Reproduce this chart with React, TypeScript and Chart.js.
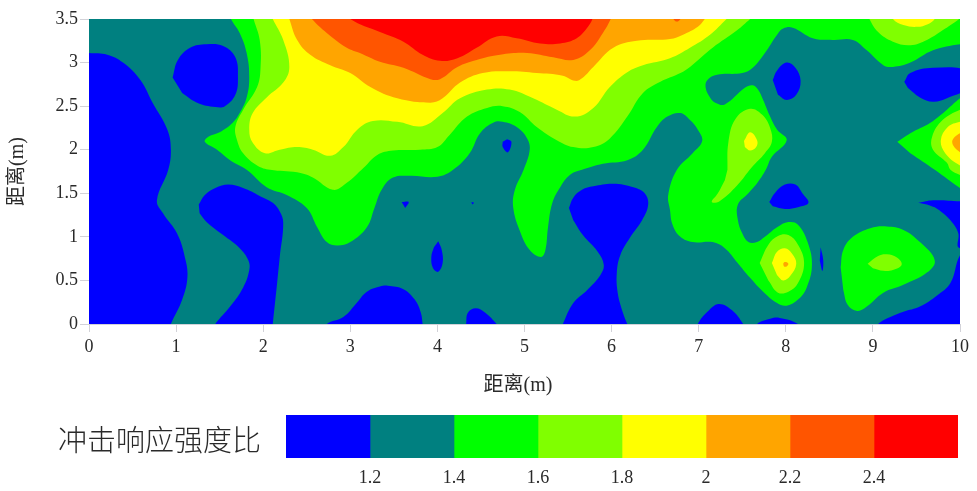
import React, { useEffect, useRef } from "react";
import { Chart, registerables } from "chart.js";

Chart.register(...registerables);

type Ring = number[][];

const levelColors = ["#0000ff", "#008080", "#00ff00", "#80ff00", "#ffff00", "#ffa500", "#ff5500", "#ff0000"];
const levelEdges = [1.0, 1.2, 1.4, 1.6, 1.8, 2.0, 2.2, 2.4, 2.6];
const legendTicks = [1.2, 1.4, 1.6, 1.8, 2, 2.2, 2.4];

const tealBase: Ring[] = [[[-0.2, -0.2], [10.2, -0.2], [10.2, 3.7], [-0.2, 3.7]]];

const blueRegions: Ring[] = [
  [[-0.1, 3.11], [0, 3.11], [0.21, 3.09], [0.39, 3.0], [0.59, 2.8], [0.73, 2.54], [0.9, 2.23], [0.94, 2.0], [0.91, 1.77], [0.78, 1.42], [0.85, 1.27], [1.01, 1.04], [1.1, 0.77], [1.13, 0.54], [1.07, 0.28], [0.94, 0], [0.9, -0.1], [-0.1, -0.1]],
  [[0.96, 2.83], [1.02, 3.03], [1.16, 3.17], [1.35, 3.21], [1.54, 3.19], [1.68, 3.06], [1.71, 2.83], [1.68, 2.63], [1.56, 2.5], [1.45, 2.49], [1.24, 2.54], [1.07, 2.65]],
  [[1.26, 1.37], [1.33, 1.48], [1.45, 1.56], [1.6, 1.6], [1.77, 1.56], [1.96, 1.47], [2.11, 1.39], [2.19, 1.29], [2.23, 1.16], [2.19, 0.77], [2.16, 0.47], [2.11, 0], [2.1, -0.1], [1.4, -0.1], [1.45, 0], [1.62, 0.2], [1.77, 0.42], [1.84, 0.62], [1.83, 0.73], [1.73, 0.87], [1.54, 1.02], [1.35, 1.17], [1.27, 1.27]],
  [[2.7, -0.1], [2.73, 0], [2.92, 0.08], [3.08, 0.25], [3.19, 0.37], [3.34, 0.43], [3.43, 0.44], [3.61, 0.4], [3.74, 0.28], [3.81, 0.13], [3.83, 0], [3.84, -0.1]],
  [[4.32, -0.1], [4.33, 0], [4.35, 0.13], [4.44, 0.18], [4.55, 0.13], [4.68, 0], [4.75, -0.1]],
  [[5.51, 1.33], [5.56, 1.45], [5.66, 1.54], [5.79, 1.58], [6.02, 1.61], [6.25, 1.57], [6.38, 1.5], [6.42, 1.37], [6.35, 1.19], [6.21, 0.99], [6.1, 0.79], [6.06, 0.59], [6.07, 0.36], [6.13, 0.13], [6.18, 0], [6.22, -0.1], [5.4, -0.1], [5.44, 0], [5.56, 0.24], [5.72, 0.39], [5.87, 0.56], [5.91, 0.68], [5.84, 0.83], [5.67, 1.02], [5.56, 1.19]],
  [[4.01, 0.95], [4.05, 0.85], [4.06, 0.7], [4.01, 0.6], [3.95, 0.64], [3.93, 0.77], [3.96, 0.88]],
  [[3.59, 1.4], [3.67, 1.4], [3.63, 1.33]],
  [[4.39, 1.4], [4.42, 1.39], [4.4, 1.37]],
  [[4.8, 2.12], [4.85, 2.09], [4.81, 1.97], [4.75, 2.03], [4.75, 2.09]],
  [[6.97, -0.1], [6.99, 0], [7.1, 0.14], [7.23, 0.23], [7.38, 0.16], [7.51, 0], [7.55, -0.1]],
  [[7.62, -0.1], [7.67, 0], [7.82, 0.06], [7.93, 0.07], [8.14, 0], [8.2, -0.1]],
  [[9.0, -0.1], [9.06, 0], [9.2, 0.08], [9.35, 0.14], [9.54, 0.2], [9.74, 0.33], [9.89, 0.47], [10, 0.79], [10.1, 0.85], [10.1, -0.1]],
  [[9.52, 1.39], [9.69, 1.42], [10, 1.41], [10.1, 1.41], [10.1, 0.9], [9.98, 0.88], [9.98, 1.04], [9.89, 1.19], [9.74, 1.32], [9.62, 1.37]],
  [[7.81, 1.4], [7.88, 1.51], [7.99, 1.6], [8.11, 1.6], [8.19, 1.5], [8.26, 1.39], [8.14, 1.34], [7.99, 1.32], [7.85, 1.35]],
  [[8.4, 0.88], [8.43, 0.73], [8.42, 0.61], [8.39, 0.73]],
  [[7.85, 2.8], [7.9, 2.91], [8.01, 3.0], [8.11, 2.94], [8.17, 2.79], [8.12, 2.63], [8.01, 2.57], [7.91, 2.63]],
  [[9.36, 2.78], [9.43, 2.88], [9.69, 2.94], [10.1, 2.9], [10.1, 2.72], [9.85, 2.59], [9.69, 2.55], [9.54, 2.6], [9.4, 2.71]],
];

const greenRegions: Ring[] = [
  [[1.6, 3.6], [1.63, 3.5], [1.73, 3.34], [1.81, 3.11], [1.84, 2.83], [1.81, 2.6], [1.73, 2.42], [1.65, 2.31], [1.5, 2.2], [1.37, 2.15], [1.33, 2.09], [1.47, 2.0], [1.62, 1.88], [1.81, 1.77], [2.04, 1.57], [2.27, 1.48], [2.5, 1.33], [2.62, 1.11], [2.73, 0.94], [2.85, 0.9], [3.0, 0.94], [3.19, 1.11], [3.28, 1.34], [3.36, 1.54], [3.49, 1.68], [3.69, 1.7], [4.0, 1.69], [4.18, 1.77], [4.37, 1.96], [4.49, 2.19], [4.64, 2.31], [4.75, 2.32], [4.91, 2.26], [5.03, 2.13], [5.06, 2.0], [4.99, 1.77], [4.89, 1.54], [4.87, 1.34], [4.95, 1.06], [5.06, 0.85], [5.19, 0.77], [5.24, 0.85], [5.27, 1.11], [5.32, 1.39], [5.41, 1.57], [5.52, 1.71], [5.66, 1.77], [5.9, 1.84], [6.18, 1.88], [6.36, 2.0], [6.52, 2.26], [6.64, 2.38], [6.79, 2.42], [6.9, 2.34], [6.99, 2.23], [7.04, 2.1], [6.93, 1.96], [6.75, 1.77], [6.65, 1.48], [6.67, 1.31], [6.7, 1.14], [6.79, 1.0], [6.93, 0.94], [7.16, 0.94], [7.3, 0.87], [7.44, 0.71], [7.59, 0.53], [7.74, 0.37], [7.9, 0.24], [8.01, 0.21], [8.14, 0.28], [8.24, 0.42], [8.3, 0.68], [8.25, 0.94], [8.14, 1.14], [8.03, 1.17], [7.9, 1.11], [7.76, 1.0], [7.67, 0.94], [7.57, 0.94], [7.5, 1.04], [7.45, 1.19], [7.45, 1.37], [7.57, 1.5], [7.68, 1.63], [7.77, 1.77], [7.84, 1.92], [8.01, 2.11], [7.9, 2.23], [7.82, 2.38], [7.74, 2.57], [7.68, 2.69], [7.62, 2.74], [7.53, 2.71], [7.3, 2.52], [7.19, 2.54], [7.13, 2.6], [7.08, 2.71], [7.1, 2.8], [7.21, 2.86], [7.5, 2.88], [7.62, 2.94], [7.76, 3.11], [7.9, 3.32], [7.97, 3.39], [8.08, 3.4], [8.31, 3.28], [8.54, 3.26], [8.77, 3.26], [8.93, 3.14], [9.12, 2.97], [9.23, 2.95], [9.43, 3.0], [9.69, 3.14], [10, 3.21], [10.1, 3.2], [10.1, 3.6]],
  [[9.28, 2.09], [9.43, 2.19], [9.66, 2.31], [9.85, 2.46], [10, 2.59], [10.1, 2.65], [10.1, 1.5], [10, 1.56], [9.71, 1.77], [9.43, 1.96]],
  [[8.63, 0.65], [8.66, 0.85], [8.77, 1.0], [8.97, 1.1], [9.16, 1.12], [9.35, 1.08], [9.54, 0.94], [9.71, 0.73], [9.62, 0.59], [9.35, 0.45], [9.12, 0.36], [8.93, 0.2], [8.82, 0.15], [8.71, 0.22], [8.66, 0.39]],
];

const chartreuseRegions: Ring[] = [
  [[1.87, 3.6], [1.89, 3.5], [1.96, 3.26], [1.97, 2.95], [1.93, 2.72], [1.77, 2.46], [1.68, 2.26], [1.7, 2.11], [1.77, 1.96], [1.93, 1.82], [2.08, 1.77], [2.39, 1.74], [2.57, 1.68], [2.8, 1.54], [2.96, 1.62], [3.15, 1.79], [3.31, 1.94], [3.49, 1.99], [3.8, 2.0], [4.0, 2.03], [4.14, 2.17], [4.34, 2.38], [4.57, 2.48], [4.75, 2.5], [4.95, 2.43], [5.14, 2.26], [5.37, 2.11], [5.56, 2.03], [5.79, 2.03], [5.98, 2.13], [6.18, 2.38], [6.36, 2.65], [6.56, 2.78], [6.79, 2.88], [6.9, 2.95], [7.16, 3.17], [7.44, 3.37], [7.59, 3.5], [7.7, 3.6]],
  [[8.92, 3.6], [8.96, 3.5], [9.06, 3.35], [9.23, 3.24], [9.43, 3.2], [9.62, 3.26], [9.8, 3.37], [9.99, 3.5], [10.1, 3.6]],
  [[7.33, 1.77], [7.34, 2.08], [7.42, 2.35], [7.59, 2.47], [7.73, 2.4], [7.82, 2.25], [7.84, 2.09], [7.76, 1.96], [7.61, 1.8], [7.44, 1.59], [7.24, 1.41], [7.15, 1.4], [7.22, 1.5], [7.3, 1.65]],
  [[10.1, 2.48], [10, 2.46], [9.8, 2.34], [9.68, 2.15], [9.69, 2.0], [9.85, 1.85], [9.89, 1.77], [10, 1.71], [10.1, 1.68]],
  [[8.94, 0.69], [9.06, 0.78], [9.16, 0.8], [9.28, 0.76], [9.33, 0.68], [9.23, 0.62], [9.12, 0.61], [9.0, 0.64]],
  [[7.7, 0.7], [7.8, 0.91], [7.91, 1.01], [8.03, 1.02], [8.14, 0.91], [8.21, 0.7], [8.14, 0.47], [8.03, 0.37], [7.91, 0.36], [7.8, 0.5]],
];

const yellowRegions: Ring[] = [
  [[2.07, 3.6], [2.11, 3.5], [2.23, 3.26], [2.3, 2.95], [2.23, 2.77], [2.04, 2.6], [1.88, 2.42], [1.84, 2.23], [1.88, 2.08], [2.02, 1.96], [2.19, 2.0], [2.39, 2.03], [2.57, 2.0], [2.77, 1.93], [2.92, 2.03], [3.08, 2.23], [3.26, 2.33], [3.54, 2.32], [3.83, 2.27], [4.06, 2.42], [4.26, 2.59], [4.57, 2.69], [4.83, 2.69], [5.1, 2.59], [5.37, 2.46], [5.58, 2.38], [5.79, 2.48], [5.98, 2.72], [6.18, 2.89], [6.36, 2.97], [6.67, 3.05], [6.9, 3.17], [7.13, 3.32], [7.32, 3.5], [7.42, 3.6]],
  [[9.2, 3.6], [9.23, 3.5], [9.35, 3.43], [9.51, 3.41], [9.63, 3.44], [9.71, 3.5], [9.75, 3.6]],
  [[7.52, 2.1], [7.59, 2.2], [7.67, 2.11], [7.66, 2.03], [7.59, 1.99], [7.53, 2.03]],
  [[10.1, 2.33], [10, 2.32], [9.86, 2.26], [9.78, 2.11], [9.83, 1.96], [10, 1.82], [10.1, 1.8]],
  [[7.84, 0.7], [7.9, 0.83], [7.99, 0.87], [8.07, 0.81], [8.12, 0.69], [8.05, 0.55], [7.97, 0.5], [7.9, 0.56]],
];

const orangeRegions: Ring[] = [
  [[2.27, 3.6], [2.3, 3.5], [2.39, 3.26], [2.54, 3.09], [2.77, 2.97], [3.0, 2.88], [3.23, 2.72], [3.54, 2.59], [3.92, 2.54], [4.06, 2.59], [4.26, 2.77], [4.52, 2.88], [4.83, 2.9], [5.14, 2.88], [5.44, 2.85], [5.58, 2.79], [5.66, 2.82], [5.79, 2.95], [6.02, 3.17], [6.29, 3.25], [6.67, 3.27], [6.82, 3.32], [6.99, 3.41], [7.07, 3.5], [7.15, 3.6]],
  [[10.1, 2.2], [10, 2.19], [9.91, 2.09], [10, 1.97], [10.1, 1.95]],
  [[7.98, 0.71], [8.01, 0.71], [8.03, 0.69], [8.01, 0.66], [7.98, 0.66], [7.97, 0.69]],
];

const darkOrangeRegions: Ring[] = [
  [[2.5, 3.6], [2.56, 3.5], [2.73, 3.34], [2.96, 3.17], [3.11, 3.11], [3.34, 3.01], [3.61, 2.94], [3.92, 2.81], [4.03, 2.81], [4.23, 2.95], [4.45, 3.03], [4.72, 3.09], [5.03, 3.11], [5.33, 3.06], [5.56, 3.03], [5.75, 3.14], [5.9, 3.34], [5.99, 3.5], [6.02, 3.6]],
  [[6.68, 3.6], [6.71, 3.5], [6.75, 3.47], [6.79, 3.5], [6.82, 3.6]],
];

const redRegions: Ring[] = [
  [[2.95, 3.6], [3.0, 3.5], [3.34, 3.35], [3.61, 3.24], [3.83, 3.09], [4.03, 3.02], [4.23, 3.05], [4.45, 3.17], [4.68, 3.3], [4.91, 3.28], [5.18, 3.22], [5.41, 3.22], [5.6, 3.28], [5.72, 3.4], [5.78, 3.5], [5.8, 3.6]],
];

const paintOrder: [Ring[], number][] = [
  [tealBase, 1],
  [blueRegions, 0],
  [greenRegions, 2],
  [chartreuseRegions, 3],
  [yellowRegions, 4],
  [orangeRegions, 5],
  [darkOrangeRegions, 6],
  [redRegions, 7],
];

const serif = "'Liberation Serif','Noto Sans CJK SC',serif";
const textColor = "#2a2a2a";
const tickColor = "#d2d2d8";

export default function App() {
  const mainRef = useRef<HTMLCanvasElement>(null);
  const legendRef = useRef<HTMLCanvasElement>(null);

  useEffect(() => {
    const datasets: any[] = [];
    paintOrder.forEach(([rings, level]) => {
      rings.forEach((ring) => {
        datasets.push({
          data: ring.map(([x, y]) => ({ x, y })),
          showLine: true,
          fill: "shape",
          backgroundColor: levelColors[level],
          borderColor: levelColors[level],
          borderWidth: 0,
          pointRadius: 0,
          tension: ring === tealBase[0] ? 0 : 0.4,
        });
      });
    });
    datasets.reverse();

    const main = new Chart(mainRef.current!, {
      type: "scatter",
      data: { datasets },
      options: {
        animation: false,
        responsive: false,
        layout: { padding: { top: 19, right: 17, left: 0, bottom: 0 } },
        plugins: { legend: { display: false }, tooltip: { enabled: false } },
        elements: { line: { capBezierPoints: false } },
        scales: {
          x: {
            type: "linear",
            min: 0,
            max: 10,
            afterFit: (s: any) => { s.height = 76; },
            ticks: { stepSize: 1, color: textColor, font: { family: serif, size: 18 }, maxRotation: 0, padding: 4, callback: (v: any) => String(v) },
            grid: { drawOnChartArea: false, drawTicks: true, tickLength: 8, color: tickColor },
            border: { color: tickColor },
          },
          y: {
            type: "linear",
            min: 0,
            max: 3.5,
            afterFit: (s: any) => { s.width = 89; },
            ticks: { stepSize: 0.5, color: textColor, font: { family: serif, size: 18 }, padding: 2, callback: (v: any) => String(v) },
            grid: { drawOnChartArea: false, drawTicks: true, tickLength: 9, color: tickColor },
            border: { color: tickColor },
            title: { display: true, text: "距离(m)", color: textColor, font: { family: serif, size: 20 }, padding: { top: 6, bottom: 0 } },
          },
        },
      } as any,
    });

    const legend = new Chart(legendRef.current!, {
      type: "bar",
      data: {
        labels: ["冲击响应强度比"],
        datasets: levelColors.map((c, i) => ({
          data: [[levelEdges[i], levelEdges[i + 1]]],
          backgroundColor: c,
          borderWidth: 0,
          grouped: false,
          barPercentage: 1,
          categoryPercentage: 1,
        })),
      } as any,
      options: {
        animation: false,
        responsive: false,
        indexAxis: "y",
        layout: { padding: { top: 15, left: 286, right: 19, bottom: 0 } },
        plugins: { legend: { display: false }, tooltip: { enabled: false } },
        scales: {
          y: { display: false },
          x: {
            type: "linear",
            min: levelEdges[0],
            max: levelEdges[levelEdges.length - 1],
            afterFit: (s: any) => { s.height = 33; },
            afterBuildTicks: (s: any) => { s.ticks = legendTicks.map((value) => ({ value })); },
            ticks: { color: textColor, font: { family: serif, size: 18 }, padding: 1, maxRotation: 0, callback: (v: any) => String(v) },
            grid: { display: false },
            border: { display: false },
          },
        },
      } as any,
    });

    return () => {
      main.destroy();
      legend.destroy();
    };
  }, []);

  return (
    <div style={{ position: "absolute", left: 0, top: 0, width: 977, height: 491, background: "#fff", overflow: "hidden" }}>
      <canvas ref={mainRef} width={977} height={400} style={{ position: "absolute", left: 0, top: 0 }} />
      <canvas ref={legendRef} width={977} height={91} style={{ position: "absolute", left: 0, top: 400 }} />
      <div style={{ position: "absolute", left: 418, width: 200, textAlign: "center", top: 372, fontFamily: serif, fontSize: 20, lineHeight: "24px", color: textColor, whiteSpace: "nowrap" }}>
        距离(m)
      </div>
      <div style={{ position: "absolute", left: 58, top: 424, fontFamily: serif, fontSize: 29, lineHeight: "34px", color: textColor, whiteSpace: "nowrap", fontWeight: 300 }}>
        冲击响应强度比
      </div>
    </div>
  );
}
